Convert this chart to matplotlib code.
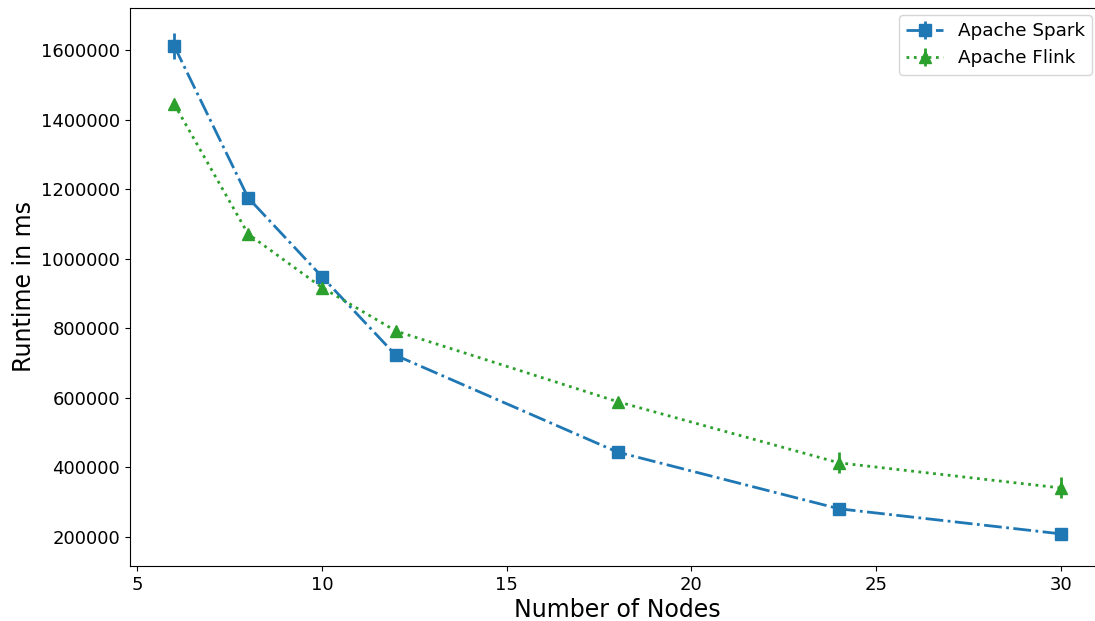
import numpy as np
import matplotlib
matplotlib.use("Agg")
import matplotlib.pyplot as plt

nodes = [6, 8, 10, 12, 18, 24, 30]
spark = [1611000, 1175000, 948000, 722000, 444000, 281000, 209000]
spark_err = [38000, 8000, 18000, 6000, 8000, 16000, 10000]
flink = [1444000, 1071000, 917000, 792000, 589000, 413000, 341000]
flink_err = [8000, 6000, 8000, 6000, 8000, 30000, 30000]

fig = plt.figure(figsize=(10.95, 6.21), dpi=100)
# the original image is cropped: the right spine lies just past the edge
ax = fig.add_axes([0.1187, 0.0886, 0.8905, 0.8985])
ax.spines['right'].set_visible(False)

ax.errorbar(nodes, spark, yerr=spark_err, color='tab:blue', linestyle='-.',
            marker='s', markersize=8, linewidth=2, elinewidth=2,
            label='Apache Spark')
ax.errorbar(nodes, flink, yerr=flink_err, color='tab:green', linestyle=':',
            marker='^', markersize=8, linewidth=2, elinewidth=2,
            label='Apache Flink')

ax.set_xlim(4.8, 31.2)
ax.set_ylim(116600, 1720750)
ax.set_xlabel('Number of Nodes', fontsize=17, labelpad=3)
ax.set_ylabel('Runtime in ms', fontsize=17)
ax.tick_params(labelsize=13)
ax.ticklabel_format(axis='y', style='plain')
ax.legend(fontsize=13.2, loc='upper right', bbox_to_anchor=(0.9867, 0.9875),
          borderaxespad=0)

plt.savefig('out.png', dpi=100)
